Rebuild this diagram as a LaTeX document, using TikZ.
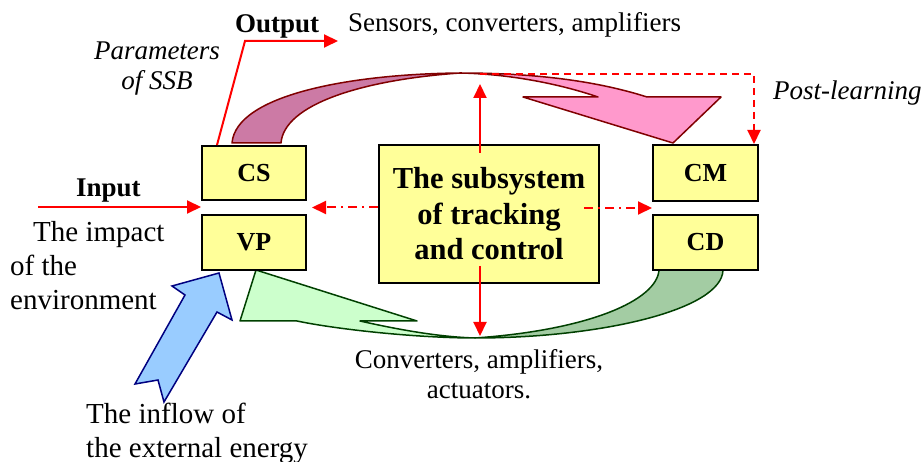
\documentclass[tikz,border=0pt]{standalone}
\usepackage{fontspec}
\setmainfont{Liberation Serif}
\usetikzlibrary{arrows.meta,calc}
\definecolor{boxfill}{RGB}{255,255,153}
\definecolor{mauvefill}{RGB}{204,122,165}
\definecolor{pinkfill}{RGB}{255,153,204}
\definecolor{darkredline}{RGB}{128,0,0}
\definecolor{darkgreenfill}{RGB}{163,204,163}
\definecolor{lightgreenfill}{RGB}{204,255,204}
\definecolor{greenline}{RGB}{0,64,0}
\definecolor{bluefill}{RGB}{153,204,255}
\definecolor{navyline}{RGB}{0,0,128}
\begin{document}
\begin{tikzpicture}[x=1pt,y=-1pt,
  blockbox/.style={draw=black,line width=2pt,fill=boxfill,inner sep=0pt,
    font=\fontsize{26}{30}\selectfont\bfseries},
  redarr/.style={draw=red,line width=2pt,-{Triangle[length=14pt,width=13pt]}},
  ddarr/.style={draw=red,line width=2pt,dash pattern=on 9pt off 5pt on 2pt off 5pt,
    -{Triangle[length=14pt,width=13pt]}},
  dasharr/.style={draw=red,line width=2pt,dash pattern=on 7pt off 5pt,
    -{Triangle[length=14pt,width=13pt]}},
  txt/.style={inner sep=0pt,font=\fontsize{27}{30}\selectfont},
  bigtxt/.style={inner sep=0pt,font=\fontsize{29}{34}\selectfont},
  upperband/.style={draw=darkredline,line width=1.5pt,line join=round},
  lowerband/.style={draw=greenline,line width=1.5pt,line join=round}]
\fill[white] (0,0) rectangle (924,462);
\useasboundingbox (0,0) rectangle (924,462);

% upper curved arrow
\filldraw[upperband,fill=mauvefill] (232,143) .. controls (236,95) and (350,74) .. (460,73)
  .. controls (360,80) and (284,105) .. (281,143) -- cycle;
\filldraw[upperband,fill=pinkfill] (460,73) .. controls (540,73) and (600,82) .. (647,97)
  -- (721,97) -- (673,143) -- (523,97) -- (598,97)
  .. controls (560,84) and (510,74) .. (460,73) -- cycle;

% lower curved arrow
\filldraw[lowerband,fill=darkgreenfill] (475,338) .. controls (590,330) and (657,300) .. (659,270)
  -- (723,270) .. controls (722,310) and (600,338) .. (475,338) -- cycle;
\filldraw[lowerband,fill=lightgreenfill] (256,270) -- (417,321) -- (360,321)
  .. controls (400,330) and (440,337) .. (475,338)
  .. controls (420,338) and (340,330) .. (297,321) -- (240,321) -- cycle;

% blue energy arrow
\filldraw[fill=bluefill,draw=navyline,line width=1.5pt,line join=miter]
  (135,384) -- (185,295) -- (172,286) -- (219,273) -- (232,320) -- (217,312)
  -- (164,402) -- (158,380) -- cycle;

% boxes
\node[blockbox,minimum width=104pt,minimum height=54pt] (cs) at (254,173) {CS};
\node[blockbox,minimum width=104pt,minimum height=55pt] (vp) at (254,242.5) {VP};
\node[blockbox,minimum width=105pt,minimum height=56pt] (cm) at (705.5,173) {CM};
\node[blockbox,minimum width=105pt,minimum height=55pt] (cd) at (705.5,242.5) {CD};
\node[blockbox,minimum width=220pt,minimum height=138pt,align=center,
  font=\fontsize{30.5}{35.5}\selectfont\bfseries] (track) at (489,214)
  {The subsystem\\of tracking\\and control};

% connectors
\coordinate (lmid) at ($(cs.south east)!0.5!(vp.north east)$);
\coordinate (rmid) at ($(cm.south west)!0.5!(cd.north west)$);
\draw[ddarr] (track.west |- lmid) -- ([xshift=5pt]lmid);
\draw[ddarr] ([xshift=-16pt]track.east |- rmid) -- (rmid);
\draw[redarr] ([shift={(-9,9)}]track.north) -- ([shift={(-9,-60)}]track.north);
\draw[redarr] ([shift={(-9,-18)}]track.south) -- ([shift={(-9,52)}]track.south);
\draw[dasharr] ([shift={(-9,-70)}]track.north) -- ([shift={(-5,-70)}]cm.north east)
  -- ([xshift=-5pt]cm.north east);
\coordinate (outK) at (245,41);
\coordinate (outE) at (338,41);
\draw[redarr] ([xshift=16pt]cs.north west) -- (outK) -- (outE);
\coordinate (inS) at (38,207);
\draw[redarr] (inS) -- (inS -| cs.west);

% texts
\node[txt,anchor=base west] (sensors) at (348,32) {Sensors, converters, amplifiers};
\node[txt,anchor=base west,font=\fontsize{27}{30}\selectfont\bfseries] (output) at (235,33) {Output};
\node[txt,align=center,anchor=base,font=\fontsize{27}{30}\selectfont\itshape] (params) at (157,90) {Parameters\\of SSB};
\node[txt,anchor=base west,font=\fontsize{27}{30}\selectfont\itshape] (post) at (773,100) {Post-learning};
\node[txt,anchor=base west,font=\fontsize{27}{30}\selectfont\bfseries] (input) at (76,197) {Input};
\node[bigtxt,align=left,anchor=base west] (impact) at (10,310) {\hspace*{23pt}The impact\\of the\\environment};
\node[bigtxt,align=left,anchor=base west] (inflow) at (86,457) {The inflow of\\the external energy};
\node[txt,align=center,anchor=base] (conv) at (479,398) {Converters, amplifiers,\\actuators.};
\end{tikzpicture}
\end{document}
